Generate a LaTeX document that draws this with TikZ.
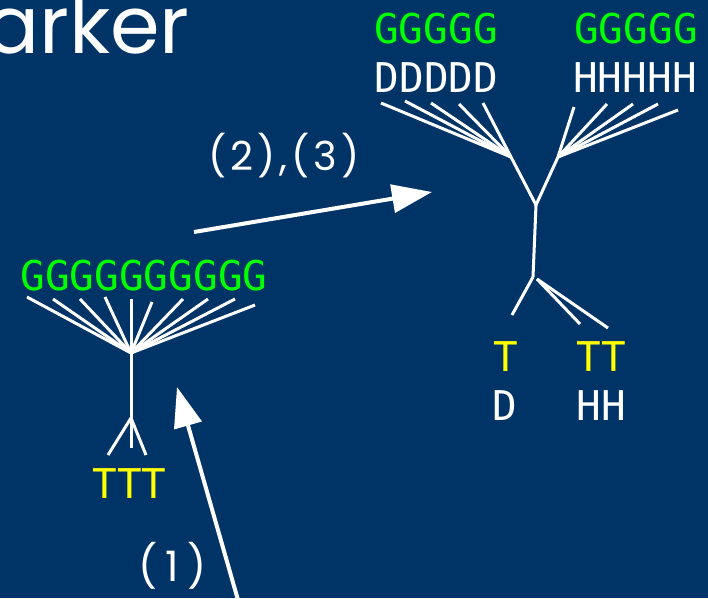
\documentclass[tikz,border=0pt]{standalone}
\usepackage{fontspec}
\usetikzlibrary{arrows.meta}
\newfontfamily\seqfont{DejaVu Sans Mono}
\newfontfamily\headfont{Poppins}
\definecolor{slidebg}{RGB}{0,51,102}
\definecolor{seqgreen}{RGB}{0,255,0}
\definecolor{seqyellow}{RGB}{255,255,0}
\begin{document}
\begin{tikzpicture}[x=1pt,y=-1pt,
  seq/.style={inner sep=0pt, anchor=base, font=\seqfont\fontsize{41}{41}\selectfont},
  gseq/.style={seq, text=seqgreen},
  yseq/.style={seq, text=seqyellow},
  wseq/.style={seq, text=white},
  head/.style={inner sep=0pt, text=white, font=\headfont\fontsize{#1}{#1}\selectfont},
  edge/.style={draw=white, line width=3pt},
  move/.style={draw=white, line width=4pt, -{Triangle[length=40pt,width=28pt]}}]
  \fill[slidebg] (0,0) rectangle (708,598);
  \clip (0,0) rectangle (708,598);

  % title fragment and step labels
  \node[head=80, anchor=base east] (title) at (190,53) {arker};
  \node[head=40, anchor=base west] (lab23) at (208,170)
    {\addfontfeatures{LetterSpace=10}(2),(3)};
  \node[head=42, anchor=base west] (lab1) at (138,581)
    {\addfontfeatures{LetterSpace=20}(1)};

  % left tree: ten G leaves joined to a single root
  \node[gseq] (gl) at (144,290) {GGGGGGGGGG};
  \node[yseq] (tl) at (129.5,498) {TTT};
  \coordinate (lroot) at (131,353);
  \coordinate (lfork) at (131,418);
  \coordinate (lbot) at (131,448);
  \foreach \x/\y [count=\i] in {27/297,53/299,80/299,105/297,131/299,152/302,183/299,208/299,235/299,255/305}
    \coordinate (lleaf\i) at (\x,\y);
  \foreach \i in {1,...,10}
    \draw[edge] (lroot) -- (lleaf\i);
  \draw[edge] (lroot) -- (lbot);
  \coordinate (lt1) at (108,455);
  \coordinate (lt2) at (146,455);
  \draw[edge] (lfork) -- (lt1);
  \draw[edge] (lfork) -- (lt2);

  % right tree: D and H groups
  \node[gseq] (gd) at (436,43) {GGGGG};
  \node[wseq] (dd) at (436.5,92) {DDDDD};
  \node[gseq] (gh) at (636,43) {GGGGG};
  \node[wseq] (hh) at (635,92) {HHHHH};
  \node[yseq] (t1) at (505.5,371) {T};
  \node[wseq] (d1) at (505,420) {D};
  \node[yseq] (t2) at (601.5,371) {TT};
  \node[wseq] (h2) at (601.5,420) {HH};

  \coordinate (droot) at (511,157);
  \coordinate (hroot) at (558,157);
  \coordinate (fork) at (536,205);
  \coordinate (lowfork) at (533,277);
  \foreach \x/\y [count=\i] in {381/103,405/101,431/103,459/104,483/103}
    \coordinate (dleaf\i) at (\x,\y);
  \foreach \x/\y [count=\i] in {574/107,607/104,633/104,658/104,678/110}
    \coordinate (hleaf\i) at (\x,\y);
  \foreach \i in {1,...,5} {
    \draw[edge] (droot) -- (dleaf\i);
    \draw[edge] (hroot) -- (hleaf\i);
  }
  \draw[edge] (droot) -- (fork) -- (hroot);
  \draw[edge] (fork) -- (lowfork);
  \coordinate (rt1) at (512,315);
  \coordinate (rt2) at (580,324);
  \coordinate (rt3) at (608,328);
  \coordinate (rt23) at (537,279);
  \draw[edge] (lowfork) -- (rt1);
  \draw[edge] (rt23) -- (rt2);
  \draw[edge] (rt23) -- (rt3);

  % step arrows
  \coordinate (a1s) at (238,600);
  \coordinate (a1e) at (177,387);
  \draw[move] (a1s) -- (a1e);
  \coordinate (a2s) at (194,232);
  \coordinate (a2e) at (432,192);
  \draw[move] (a2s) -- (a2e);
\end{tikzpicture}
\end{document}
